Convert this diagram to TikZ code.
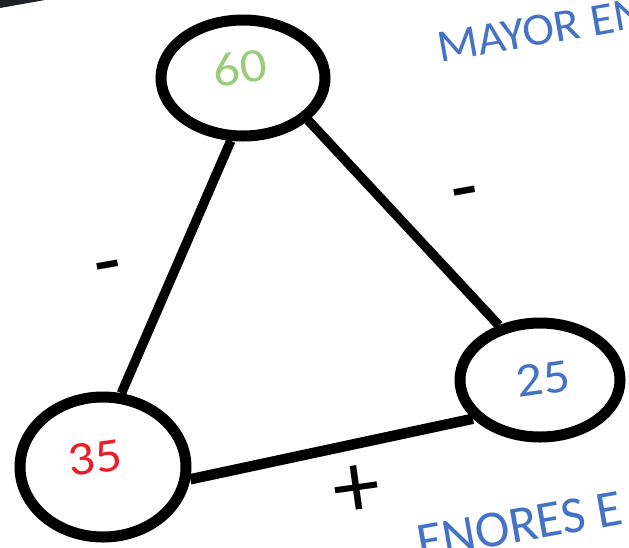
\documentclass[tikz,border=0pt]{standalone}
\usepackage{fontspec}
\setmainfont{Carlito}
\usetikzlibrary{shapes.geometric}
\definecolor{ppblue}{HTML}{4472C4}
\definecolor{ppgreen}{HTML}{9CCB7C}
\definecolor{ppred}{HTML}{E8202A}
\definecolor{ppdark}{HTML}{1C2226}
\begin{document}
\begin{tikzpicture}[x=1pt,y=-1pt,
  ring/.style={draw=black, ellipse, line width=11pt, fill=white, inner sep=0pt},
  link/.style={line width=9.5pt, draw=black},
  num/.style={font=\fontsize{48}{48}\selectfont, rotate=8},
  sign/.style={font=\fontsize{90}{90}\selectfont, text=black, rotate=10},
  note/.style={text=ppblue, rotate=10, anchor=base west, inner sep=0pt}]
\useasboundingbox (0,0) rectangle (629,547);
\fill[white] (0,0) rectangle (629,547);
\fill[ppdark] (0,0) -- (45,0) -- (0,8) -- cycle;
% notes
\node[note, font=\fontsize{46}{46}\selectfont] (mayor) at (440,63) {\scalebox{1.04}[1]{MAYOR EN}};
\node[note, font=\fontsize{52}{52}\selectfont] (menores) at (420,560) {ENORES E};
% circles
\node[ring, minimum width=164pt, minimum height=116pt] (n60) at (243,78) {};
\node[ring, minimum width=166pt, minimum height=140pt] (n35) at (103,467) {};
\node[ring, minimum width=160pt, minimum height=114pt] (n25) at (540,380) {};
\node[num, text=ppgreen] (t60) at (240,68) {\scalebox{1.1}[1]{60}};
\node[num, text=ppred] (t35) at (95,458) {\scalebox{1.1}[1]{35}};
\node[num, text=ppblue] (t25) at (543,379) {\scalebox{1.1}[1]{25}};
% connectors
\draw[link] (n60.259) -- (n35.76);
\draw[link] (n60.327) -- (n25.127);
\draw[link, line width=10.5pt] (n35.-8) -- (n25.210);
% signs
\node[sign] (m1) at (110,276) {-};
\node[sign] (m2) at (467,202) {-};
\node[font=\fontsize{94}{94}\selectfont, rotate=8] (p1) at (357,492) {+};
\end{tikzpicture}
\end{document}
